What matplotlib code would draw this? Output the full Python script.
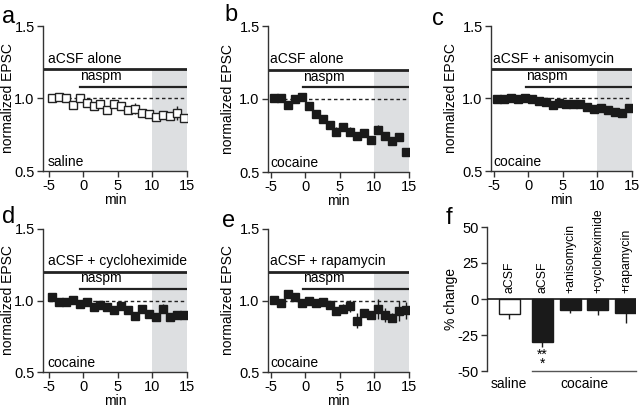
import numpy as np
import matplotlib.pyplot as plt

plt.rcParams['font.family'] = ['Liberation Sans', 'DejaVu Sans']
plt.rcParams['font.size'] = 10
plt.rcParams['axes.unicode_minus'] = False

# time points (min), one per minute
t = np.arange(-4.5, 15, 1.0)

sal_y = [1.005, 1.01, 1.005, 0.955, 1.0, 0.97, 0.95, 0.965, 0.92, 0.965,
         0.945, 0.92, 0.93, 0.90, 0.89, 0.87, 0.885, 0.88, 0.90, 0.865]
sal_e = [0.015, 0.02, 0.01, 0.015, 0.015, 0.015, 0.02, 0.02, 0.03, 0.02,
         0.02, 0.02, 0.04, 0.02, 0.02, 0.025, 0.025, 0.025, 0.05, 0.02]

coc_y = [1.01, 1.007, 0.96, 1.0, 1.014, 0.955, 0.895, 0.865, 0.82, 0.775,
         0.81, 0.777, 0.745, 0.765, 0.72, 0.79, 0.745, 0.715, 0.74, 0.635]
coc_e = [0.01, 0.01, 0.01, 0.01, 0.01, 0.015, 0.02, 0.02, 0.02, 0.03,
         0.015, 0.03, 0.015, 0.01, 0.025, 0.03, 0.01, 0.015, 0.025, 0.02]

aniso_y = [0.995, 0.997, 1.0, 0.995, 1.005, 0.997, 0.98, 0.975, 0.957, 0.97,
           0.963, 0.96, 0.96, 0.94, 0.93, 0.932, 0.92, 0.91, 0.898, 0.934]
aniso_e = [0.01, 0.01, 0.01, 0.01, 0.01, 0.01, 0.01, 0.01, 0.01, 0.01,
           0.01, 0.01, 0.02, 0.01, 0.01, 0.01, 0.02, 0.01, 0.01, 0.01]

cyclo_y = [1.026, 0.993, 0.993, 1.002, 0.977, 0.99, 0.958, 0.972, 0.955, 0.932,
           0.96, 0.937, 0.895, 0.94, 0.907, 0.888, 0.944, 0.888, 0.9, 0.9]
cyclo_e = [0.01, 0.01, 0.01, 0.01, 0.01, 0.01, 0.01, 0.01, 0.01, 0.02,
           0.01, 0.01, 0.01, 0.01, 0.02, 0.01, 0.03, 0.01, 0.015, 0.015]

rapa_y = [1.005, 0.98, 1.042, 1.023, 0.981, 1.0, 0.986, 0.99, 0.97, 0.925,
          0.944, 0.963, 0.86, 0.916, 0.902, 0.94, 0.897, 0.881, 0.93, 0.932]
rapa_e = [0.02, 0.02, 0.015, 0.02, 0.01, 0.01, 0.015, 0.01, 0.02, 0.015,
          0.03, 0.04, 0.05, 0.02, 0.02, 0.07, 0.05, 0.03, 0.07, 0.06]

bar_labels = ['aCSF', 'aCSF', '+anisomycin', '+cycloheximide', '+rapamycin']
bar_vals = [-10.2, -30, -7.9, -7.4, -10]
bar_err = [3.5, 3.4, 2, 3.5, 6.5]
bar_x = [0, 1.18, 2.18, 3.18, 4.18]

spine_c = '#333333'
shade_c = '#dddfe1'

fig = plt.figure(figsize=(6.4, 4.11), dpi=100)


def px_axes(l, r, top, bot):
    return fig.add_axes([l / 640, 1 - bot / 411, (r - l) / 640, (bot - top) / 411])


def style(ax):
    for s in ['top', 'right']:
        ax.spines[s].set_visible(False)
    for s in ['left', 'bottom']:
        ax.spines[s].set_color(spine_c)
        ax.spines[s].set_linewidth(1)
    ax.tick_params(direction='out', length=4, width=1, color=spine_c, labelsize=10.5, pad=2)


def time_panel(ax, y, e, cond, group, xmin, ylab_x, open_sym=False):
    style(ax)
    ax.set_xlim(xmin, 15)
    ax.set_ylim(0.5, 1.5)
    ax.set_xticks([-5, 0, 5, 10, 15])
    ax.set_yticks([0.5, 1.0, 1.5])
    ax.set_yticklabels(['0.5', '1.0', '1.5'])
    ax.fill_between([10, 15], 0.5, 1.2, color=shade_c, lw=0, zorder=0)
    ax.plot([xmin, 15], [1.2, 1.2], color='#222222', lw=2)
    ax.plot([-0.4, 15], [1.08, 1.08], color='#222222', lw=1.6)
    ax.plot([-5, 15], [1.0, 1.0], color='#222222', lw=1, ls=(0, (2.5, 2)), zorder=1)
    ax.text(-5.1, 1.225, cond, ha='left', va='bottom')
    ax.text(-0.4, 1.105, 'naspm', ha='left', va='bottom')
    ax.text(-5.1, 0.515, group, ha='left', va='bottom')
    if open_sym:
        ax.errorbar(t, y, yerr=e, fmt='s', ms=5.2, mfc='white', mec='#222222', mew=1,
                    ecolor='#222222', elinewidth=1, capsize=0, zorder=3)
    else:
        ax.errorbar(t, y, yerr=e, fmt='s', ms=5.4, mfc='#1a1a1a', mec='#1a1a1a',
                    ecolor='#1a1a1a', elinewidth=1, capsize=0, zorder=3)
    ax.set_xlabel('min', labelpad=0)
    ax.set_ylabel('normalized EPSC')
    ax.yaxis.set_label_coords(ylab_x, 0.5)


axa = px_axes(43, 187, 26, 171)
time_panel(axa, sal_y, sal_e, 'aCSF alone', 'saline', -5.8, -0.194, open_sym=True)
axb = px_axes(268, 409, 26, 172)
time_panel(axb, coc_y, coc_e, 'aCSF alone', 'cocaine', -5.4, -0.234)
axc = px_axes(491, 632, 26, 171)
time_panel(axc, aniso_y, aniso_e, 'aCSF + anisomycin', 'cocaine', -5.4, -0.234)
axd = px_axes(43, 187, 229, 372)
time_panel(axd, cyclo_y, cyclo_e, 'aCSF + cycloheximide', 'cocaine', -5.8, -0.194)
axe = px_axes(268, 409, 229, 372)
time_panel(axe, rapa_y, rapa_e, 'aCSF + rapamycin', 'cocaine', -5.4, -0.234)

# panel f: bar chart
axf = px_axes(487, 636, 227, 371)
style(axf)
axf.spines['bottom'].set_visible(False)
axf.set_xticks([])
axf.set_xlim(-0.79, 4.54)
axf.set_ylim(-50, 50)
axf.set_yticks([-50, -25, 0, 25, 50])
colors = ['white', '#1a1a1a', '#1a1a1a', '#1a1a1a', '#1a1a1a']
axf.bar(bar_x, bar_vals, width=0.75, color=colors, edgecolor='#1a1a1a', lw=1, zorder=2)
axf.errorbar(bar_x, bar_vals, yerr=[bar_err, [0] * 5], fmt='none', ecolor='#1a1a1a',
             elinewidth=1, capsize=0, zorder=1)
axf.axhline(0, color='#1a1a1a', lw=1.2, zorder=3)
for x, lab in zip(bar_x, bar_labels):
    axf.text(x, 4, lab, rotation=90, ha='center', va='bottom', fontsize=8.8)
axf.text(bar_x[1], -34, '**\n*', ha='center', va='top', fontsize=10, linespacing=0.55)
axf.plot([0.82, 4.54], [-50, -50], color='#555555', lw=1, clip_on=False)
axf.text(bar_x[0], -54, 'saline', ha='center', va='top')
axf.text(2.68, -54, 'cocaine', ha='center', va='top')
axf.set_ylabel('% change')
axf.yaxis.set_label_coords(-0.195, 0.5)

# panel letters
for lab, x, y in [('a', 2, 6), ('b', 224, 4), ('c', 432, 8),
                  ('d', 2, 206), ('e', 222, 210), ('f', 446, 207)]:
    fig.text(x / 640, 1 - y / 411, lab, fontsize=17, ha='left', va='top')

fig.savefig('out.png', dpi=100)
